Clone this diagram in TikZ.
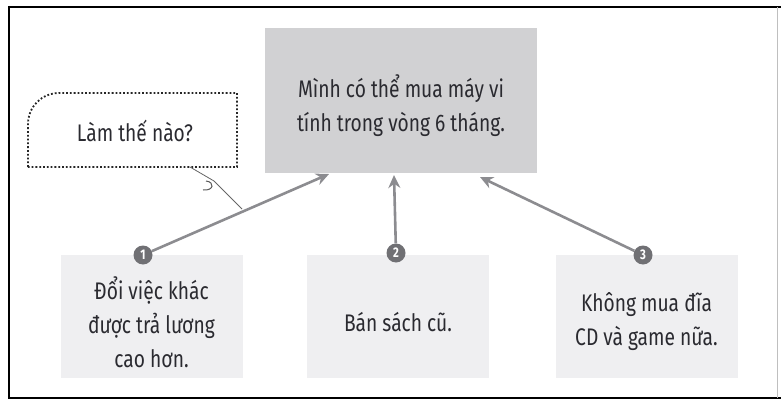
\documentclass[tikz,border=0pt]{standalone}
\usepackage{fontspec}
\setmainfont[FakeStretch=0.8]{Fira Sans}
\usetikzlibrary{arrows.meta}
\definecolor{maingray}{HTML}{D1D1D3}
\definecolor{lightbox}{HTML}{EFEFF1}
\definecolor{arrowgray}{HTML}{8C8C90}
\definecolor{circgray}{HTML}{707074}
\definecolor{txt}{HTML}{2A2A30}
\begin{document}
\begin{tikzpicture}[x=1pt,y=-1pt,
  txtstyle/.style={font=\fontsize{24}{34}\selectfont, text=txt, align=center, inner sep=0pt},
  mainbox/.style={fill=maingray, minimum width=272pt, minimum height=145pt, inner sep=0pt},
  subbox/.style={fill=lightbox, minimum width=182pt, minimum height=123pt, inner sep=0pt},
  numcirc/.style={circle, fill=circgray, text=white, minimum size=19pt, inner sep=0pt, font=\fontsize{14}{14}\selectfont\bfseries},
  conn/.style={draw=arrowgray, line width=2.6pt, -{Stealth[length=13pt,width=12pt]}},
  callout/.style={draw=black!85, dotted, line width=1.8pt},
]
\useasboundingbox (0,0) rectangle (781,401);
% frame
\draw[line width=2pt] (8,7) -- (781,7);
\draw[line width=2pt] (8,398) -- (781,398);
\draw[line width=2pt] (9,6) -- (9,399);
\draw[line width=0.6pt, black!25] (777,7) -- (777,398);

% main box
\node[mainbox] (main) at (401,100.5) {};
\node[txtstyle] (maintxt) at (401,106) {Mình có thể mua máy vi\\tính trong vòng 6 tháng.};

% bottom boxes
\node[subbox] (b1) at (151.5,316.5) {};
\node[txtstyle] (t1) at (151.5,322) {Đổi việc khác\\được trả lương\\cao hơn.};
\node[subbox] (b2) at (398,316.5) {};
\node[txtstyle] (t2) at (398,322) {Bán sách cũ.};
\node[subbox] (b3) at (646.5,316.5) {};
\node[txtstyle] (t3) at (646.5,322) {Không mua đĩa\\CD và game nữa.};

% number circles
\node[numcirc] (n1) at (143,255) {1};
\node[numcirc] (n2) at (396,253) {2};
\node[numcirc] (n3) at (643,255) {3};

% arrows
\coordinate (a1) at (329,174);
\coordinate (a2) at (394,175);
\coordinate (a3) at (480,177);
\draw[conn] (n1) -- (a1);
\draw[conn] (n2) -- (a2);
\draw[conn] (n3) -- (a3);

% callout
\draw[callout] (28,167) -- (28,124) arc[start angle=180, end angle=270, radius=31] -- (237,93) -- (237,167) -- cycle;
\node[txtstyle] (q) at (135,131) {Làm thế nào?};
\coordinate (tailA) at (190,167);
\coordinate (tailB) at (214,181);
\coordinate (tailC) at (242,209);
\draw[black!60, line width=0.8pt] (tailA) -- (tailB) -- (tailC);
\draw[black!65, line width=1pt] (206,181) .. controls (215,182) and (214,191) .. (203,190);
\end{tikzpicture}
\end{document}
